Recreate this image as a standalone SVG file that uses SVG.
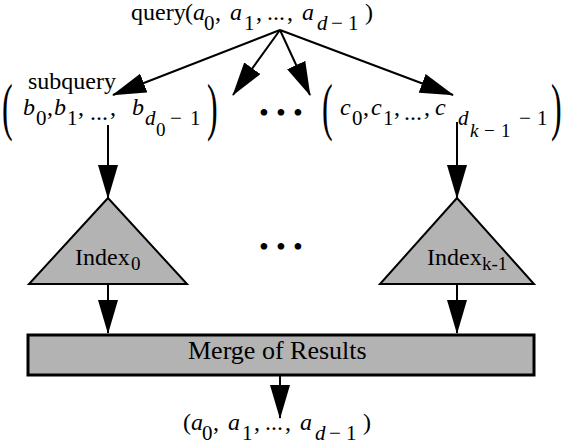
<svg xmlns="http://www.w3.org/2000/svg" width="563" height="448" viewBox="0 0 563 448">
<style>
text{font-family:"Liberation Serif","Times New Roman",serif;font-size:24px;fill:#000}
.i{font-style:italic}
.s{font-size:21px}
.ss{font-size:19px}
.par{font-size:64px}
.dots{font-size:28px;letter-spacing:7.2px}
.shape{fill:#b3b3b3;stroke:#000;stroke-width:2}
.conn{stroke:#000;stroke-width:2;fill:none;marker-end:url(#ah)}
</style>
<defs>
<marker id="ah" markerUnits="userSpaceOnUse" markerWidth="34" markerHeight="20" refX="33" refY="10" orient="auto">
<path d="M0,0 L34,10 L0,20 z" fill="#000"/>
</marker>
</defs>

<g id="query">
<text x="131" y="20">query</text>
<g transform="translate(185,20)">
<text x="0" y="0">(</text><text class="i" x="8" y="0">a</text><text class="s" x="19" y="10">0</text><text x="30" y="0">,</text>
<text class="i" x="45" y="0">a</text><text class="s" x="59" y="10">1</text><text x="71" y="0">,</text>
<text x="82" y="0">...</text><text x="102" y="0">,</text>
<text class="i" x="117" y="0">a</text><text class="s i" x="132" y="10">d</text><text class="s" x="146" y="10">−</text><text class="s" x="163" y="10">1</text><text x="180" y="0">)</text>
</g>
</g>

<g id="subquery0">
<text x="28" y="89">subquery</text>
<text class="par" transform="translate(2,128) scale(0.5,1)">(</text>
<text class="i" x="23" y="115">b</text><text class="s" x="36" y="125">0</text><text x="47" y="115">,</text>
<text class="i" x="54" y="115">b</text><text class="s" x="67" y="125">1</text><text x="78" y="115">,</text>
<text x="90" y="120">...</text><text x="110" y="115">,</text>
<text class="i" x="132" y="115">b</text><text class="s i" x="145" y="125">d</text><text class="ss" x="156" y="136">0</text><text class="s" x="170" y="125">−</text><text class="s" x="190" y="125">1</text>
<text class="par" transform="translate(207,128) scale(0.5,1)">)</text>
</g>

<g id="subqueryk">
<text class="par" transform="translate(322,128) scale(0.5,1)">(</text>
<text class="i" x="340" y="115">c</text><text class="s" x="352" y="125">0</text><text x="363" y="115">,</text>
<text class="i" x="371" y="115">c</text><text class="s" x="383" y="125">1</text><text x="394" y="115">,</text>
<text x="404" y="120">...</text><text x="424" y="115">,</text>
<text class="i" x="435" y="115">c</text><text class="s i" x="458" y="125">d</text><text class="ss i" x="470" y="137">k</text><text class="ss" x="484" y="137">−</text><text class="ss" x="501" y="137">1</text><text class="s" x="519" y="125">−</text><text class="s" x="537" y="125">1</text>
<text class="par" transform="translate(551,128) scale(0.5,1)">)</text>
</g>

<g id="dots-top"><text class="dots" x="259" y="122">•••</text></g>
<g id="dots-mid"><text class="dots" x="259" y="256">•••</text></g>

<g id="index0">
<polygon class="shape" points="108,198 29,284 187,284"/>
<text x="75" y="265">Index</text><text class="ss" x="131" y="270">0</text>
</g>

<g id="indexk">
<polygon class="shape" points="457,198 380,284 534,284"/>
<text x="427" y="265">Index</text><text class="ss" x="482" y="270">k-1</text>
</g>

<g id="merge">
<rect x="28" y="335" width="506" height="40" style="fill:#b3b3b3;stroke:#000;stroke-width:3"/>
<text x="188" y="359" style="font-size:26px">Merge of Results</text>
</g>

<g id="result">
<g transform="translate(183,430)">
<text x="0" y="0">(</text><text class="i" x="8" y="0">a</text><text class="s" x="19" y="10">0</text><text x="30" y="0">,</text>
<text class="i" x="45" y="0">a</text><text class="s" x="59" y="10">1</text><text x="71" y="0">,</text>
<text x="82" y="0">...</text><text x="102" y="0">,</text>
<text class="i" x="117" y="0">a</text><text class="s i" x="132" y="10">d</text><text class="s" x="146" y="10">−</text><text class="s" x="163" y="10">1</text><text x="180" y="0">)</text>
</g>
</g>

<g id="connectors">
<line class="conn" x1="280" y1="30" x2="113" y2="95"/>
<line class="conn" x1="280" y1="30" x2="233" y2="95"/>
<line class="conn" x1="280" y1="30" x2="310" y2="95"/>
<line class="conn" x1="280" y1="30" x2="453" y2="95"/>
<line class="conn" x1="108" y1="125" x2="108" y2="198"/>
<line class="conn" x1="457" y1="122" x2="457" y2="198"/>
<line class="conn" x1="108" y1="284" x2="108" y2="333"/>
<line class="conn" x1="457" y1="284" x2="457" y2="333"/>
<line class="conn" x1="280" y1="375" x2="280" y2="418"/>
</g>
</svg>
